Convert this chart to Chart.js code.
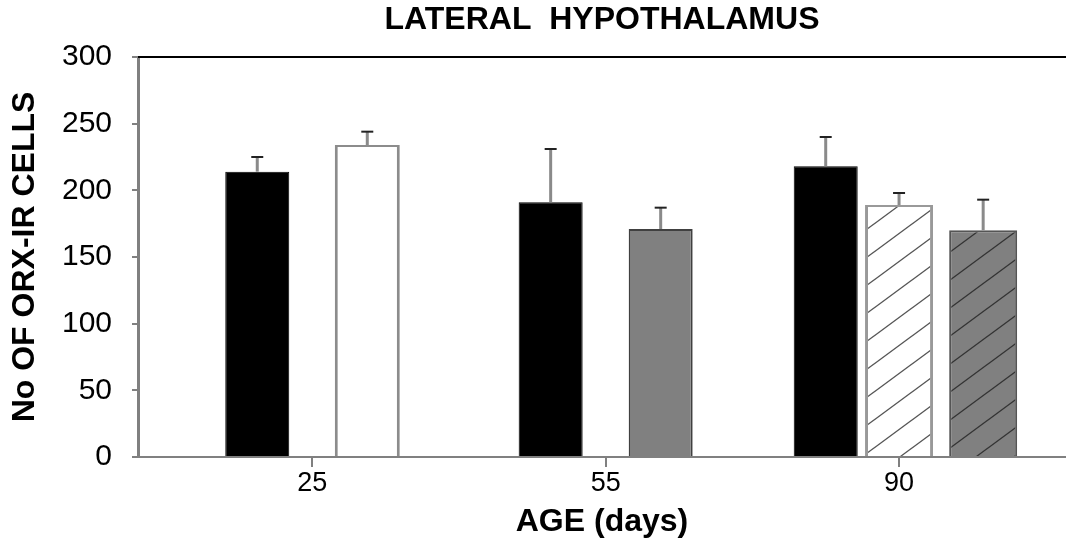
<!DOCTYPE html>
<html>
<head>
<meta charset="utf-8">
<title>Lateral hypothalamus</title>
<script src="https://cdn.jsdelivr.net/npm/chart.js"></script>
<style>
  body { margin: 0; background: #fff; }
  #wrap { width: 1066px; height: 542px; }
</style>
</head>
<body>
<div id="wrap"><canvas id="myChart"></canvas></div>
<script>
// age groups on the x axis
var ageLabels = ['25', '55', '90'];
var yTicks = [0, 50, 100, 150, 200, 250, 300];

// mean cell counts and SEM, one array per bar style
var blackMean = [214, 191, 218];
var blackSem = [11, 40, 22];
var whiteMean = [234, null, null];
var whiteSem = [10, null, null];
var greyMean = [null, 171, null];
var greySem = [null, 16, null];
var hatchWhiteMean = [null, null, 189];
var hatchWhiteSem = [null, null, 9];
var hatchGreyMean = [null, null, 170];
var hatchGreySem = [null, null, 23];

var FONT = "'Liberation Sans', Arial, sans-serif";

function points(arr) {
	return arr.map(function(v, i) { return {x: i, y: v}; });
}

// diagonal "/" hatch fill
function hatch(bg, line) {
	var w = 38, h = 28;
	var c = document.createElement('canvas');
	c.width = w; c.height = h;
	var g = c.getContext('2d');
	g.fillStyle = bg;
	g.fillRect(0, 0, w, h);
	g.strokeStyle = line;
	g.lineWidth = 1.3;
	for (var k = -1; k <= 1; k++) {
		g.beginPath();
		g.moveTo(-2, h + k * h + 2 * h / w);
		g.lineTo(w + 2, k * h - 2 * h / w);
		g.stroke();
	}
	return g.createPattern(c, 'repeat');
}

// upper error bars drawn from each bar's top
var errorBars = {
	id: 'errorBars',
	afterDatasetsDraw: function(chart) {
		var ctx = chart.ctx, yScale = chart.scales.y;
		chart.data.datasets.forEach(function(ds, i) {
			var meta = chart.getDatasetMeta(i);
			meta.data.forEach(function(bar, j) {
				var v = ds.data[j].y, e = ds.sem[j];
				if (v == null || e == null) return;
				var top = yScale.getPixelForValue(v + e);
				ctx.save();
				ctx.strokeStyle = '#8a8a8a';
				ctx.lineWidth = 3;
				ctx.beginPath();
				ctx.moveTo(bar.x, bar.y);
				ctx.lineTo(bar.x, top);
				ctx.stroke();
				ctx.strokeStyle = '#222';
				ctx.lineWidth = 2;
				ctx.beginPath();
				ctx.moveTo(bar.x - 6, top);
				ctx.lineTo(bar.x + 6, top);
				ctx.stroke();
				ctx.restore();
			});
		});
	}
};

// black line along the top of the plot area
var frameTop = {
	id: 'frameTop',
	afterDraw: function(chart) {
		var a = chart.chartArea, ctx = chart.ctx;
		ctx.save();
		ctx.strokeStyle = '#000';
		ctx.lineWidth = 2;
		ctx.beginPath();
		ctx.moveTo(a.left, a.top);
		ctx.lineTo(a.right, a.top);
		ctx.stroke();
		ctx.restore();
	}
};

var pairOpts = {categoryPercentage: 0.75, barPercentage: 0.9, skipNull: true};
var trioOpts = {categoryPercentage: 0.86, barPercentage: 0.82, skipNull: true};

new Chart('myChart', {
	type: 'bar',
	data: {
		datasets: [
			Object.assign({
				data: points(blackMean), sem: blackSem,
				backgroundColor: '#000', borderColor: '#000', borderWidth: 1,
				maxBarThickness: 64
			}, pairOpts),
			Object.assign({
				data: points(whiteMean), sem: whiteSem,
				backgroundColor: '#fff', borderColor: '#8c8c8c',
				borderWidth: {top: 2, left: 3, right: 3, bottom: 0},
				maxBarThickness: 65
			}, pairOpts),
			Object.assign({
				data: points(greyMean), sem: greySem,
				backgroundColor: '#808080', borderColor: '#404040', borderWidth: 2,
				maxBarThickness: 64
			}, pairOpts),
			Object.assign({
				data: points(hatchWhiteMean), sem: hatchWhiteSem,
				backgroundColor: hatch('#fff', '#555'), borderColor: '#999',
				borderWidth: {top: 2, left: 3, right: 3, bottom: 0},
				maxBarThickness: 68
			}, trioOpts),
			Object.assign({
				data: points(hatchGreyMean), sem: hatchGreySem,
				backgroundColor: hatch('#808080', '#333'), borderColor: '#555', borderWidth: 2,
				maxBarThickness: 68
			}, trioOpts)
		]
	},
	options: {
		responsive: true,
		maintainAspectRatio: false,
		animation: false,
		layout: {padding: 0},
		plugins: {
			legend: {display: false},
			tooltip: {enabled: false},
			title: {
				display: true,
				text: 'LATERAL  HYPOTHALAMUS',
				fullSize: false,
				color: '#000',
				font: {family: FONT, size: 32, weight: 'bold', lineHeight: 1.2},
				padding: {top: 1, bottom: 17.6}
			}
		},
		scales: {
			x: {
				type: 'linear',
				min: -0.594,
				max: 2.569,
				offset: false,
				afterBuildTicks: function(s) {
					s.ticks = ageLabels.map(function(_, i) { return {value: i}; });
				},
				afterFit: function(s) { s.height = 85; },
				ticks: {
					callback: function(v) { return ageLabels[v]; },
					color: '#000',
					padding: 0,
					maxRotation: 0,
					font: {family: FONT, size: 27}
				},
				grid: {drawOnChartArea: false, offset: false, tickLength: 10, color: '#808080', lineWidth: 2},
				border: {color: '#808080', width: 2},
				title: {
					display: true,
					text: 'AGE (days)',
					color: '#000',
					font: {family: FONT, size: 32, weight: 'bold', lineHeight: 1.2},
					padding: {top: 0, bottom: 1}
				}
			},
			y: {
				min: 0,
				max: 300,
				afterBuildTicks: function(s) {
					s.ticks = yTicks.map(function(v) { return {value: v}; });
				},
				afterFit: function(s) { s.width = 138; },
				ticks: {
					color: '#000',
					padding: 20,
					font: {family: FONT, size: 30}
				},
				grid: {drawOnChartArea: false, tickLength: 6, color: '#808080', lineWidth: 2},
				border: {color: '#808080', width: 3},
				title: {
					display: true,
					text: 'No OF ORX-IR CELLS',
					color: '#000',
					font: {family: FONT, size: 32, weight: 'bold', lineHeight: 1.2},
					padding: {top: 6, bottom: 0}
				}
			}
		}
	},
	plugins: [errorBars, frameTop]
});
</script>
</body>
</html>
